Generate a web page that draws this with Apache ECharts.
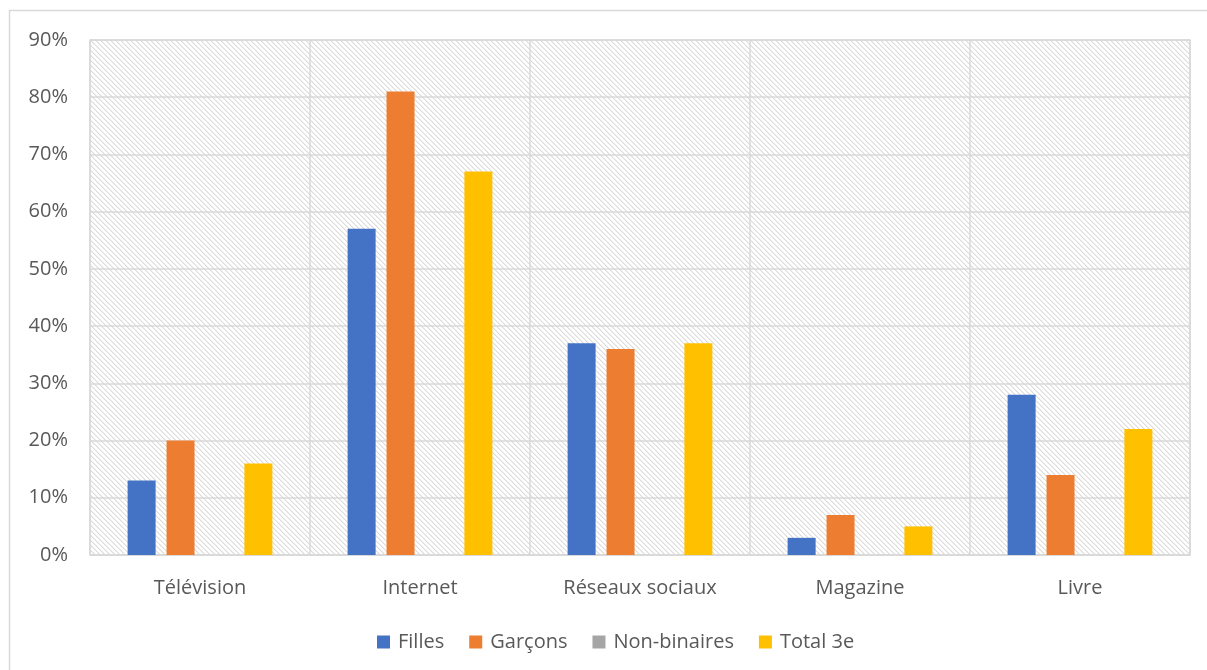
<!DOCTYPE html>
<html>
<head>
<meta charset="utf-8">
<script src="https://cdn.jsdelivr.net/npm/echarts@6/dist/echarts.min.js"></script>
<style>
html,body{margin:0;padding:0;background:#fff;}
#chart{width:1207px;height:670px;}
</style>
</head>
<body>
<div id="chart"></div>
<script>
const categories = ['Télévision', 'Internet', 'Réseaux sociaux', 'Magazine', 'Livre'];
const filles = [13, 57, 37, 3, 28];
const garcons = [20, 81, 36, 7, 14];
const nonBinaires = [0, 0, 0, 0, 0];
const total3e = [16, 67, 37, 5, 22];
const seriesNames = ['Filles', 'Garçons', 'Non-binaires', 'Total 3e'];
const seriesColors = ['#4472C4', '#ED7D31', '#A5A5A5', '#FFC000'];

// hatch pattern tile
const tile = document.createElement('canvas');
tile.width = 5; tile.height = 5;
const tctx = tile.getContext('2d');
tctx.fillStyle = '#ffffff';
tctx.fillRect(0, 0, 5, 5);
tctx.fillStyle = '#dcdcdc';
for (let i = 0; i < 5; i++) {
  tctx.fillRect(i, i, 1, 1);
}
tctx.fillStyle = '#eeeeee';
for (let i = 0; i < 5; i++) {
  tctx.fillRect((i + 1) % 5, i, 1, 1);
}

const chart = echarts.init(document.getElementById('chart'));
const font = '"Open Sans", Lato, sans-serif';
const dataSets = [filles, garcons, nonBinaires, total3e];

chart.setOption({
  animation: false,
  textStyle: { fontFamily: font },
  graphic: [{
    type: 'rect',
    shape: { x: 9.5, y: 10.5, width: 1400, height: 800 },
    style: { fill: 'none', stroke: '#d9d9d9', lineWidth: 1.5 },
    silent: true,
    z: -10
  }],
  grid: {
    left: 90, right: 17, top: 40, bottom: 115,
    show: true,
    backgroundColor: { image: tile, repeat: 'repeat' },
    borderColor: '#d9d9d9',
    borderWidth: 1.5
  },
  legend: {
    bottom: 13,
    left: 372,
    itemWidth: 13,
    itemHeight: 13,
    itemGap: 25,
    icon: 'rect',
    textStyle: { color: '#595959', fontSize: 20, fontFamily: font, padding: [0, 0, 0, 3] },
    data: seriesNames
  },
  xAxis: {
    type: 'category',
    data: categories,
    axisLine: { show: true, lineStyle: { color: '#d9d9d9', width: 1.5 } },
    axisTick: { show: false },
    splitLine: { show: true, lineStyle: { color: '#d9d9d9', width: 1.5 } },
    axisLabel: { color: '#595959', fontSize: 20, margin: 23, fontFamily: font }
  },
  yAxis: {
    type: 'value',
    min: 0, max: 90, interval: 10,
    axisLine: { show: false },
    axisTick: { show: false },
    splitLine: { lineStyle: { color: '#d9d9d9', width: 1.5 } },
    axisLabel: { color: '#595959', fontSize: 20, margin: 22, formatter: '{value}%', fontFamily: font }
  },
  series: seriesNames.map((name, i) => ({
    name: name,
    type: 'bar',
    data: dataSets[i],
    barWidth: 28,
    barGap: '39%',
    itemStyle: { color: seriesColors[i] }
  }))
});
</script>
</body>
</html>
